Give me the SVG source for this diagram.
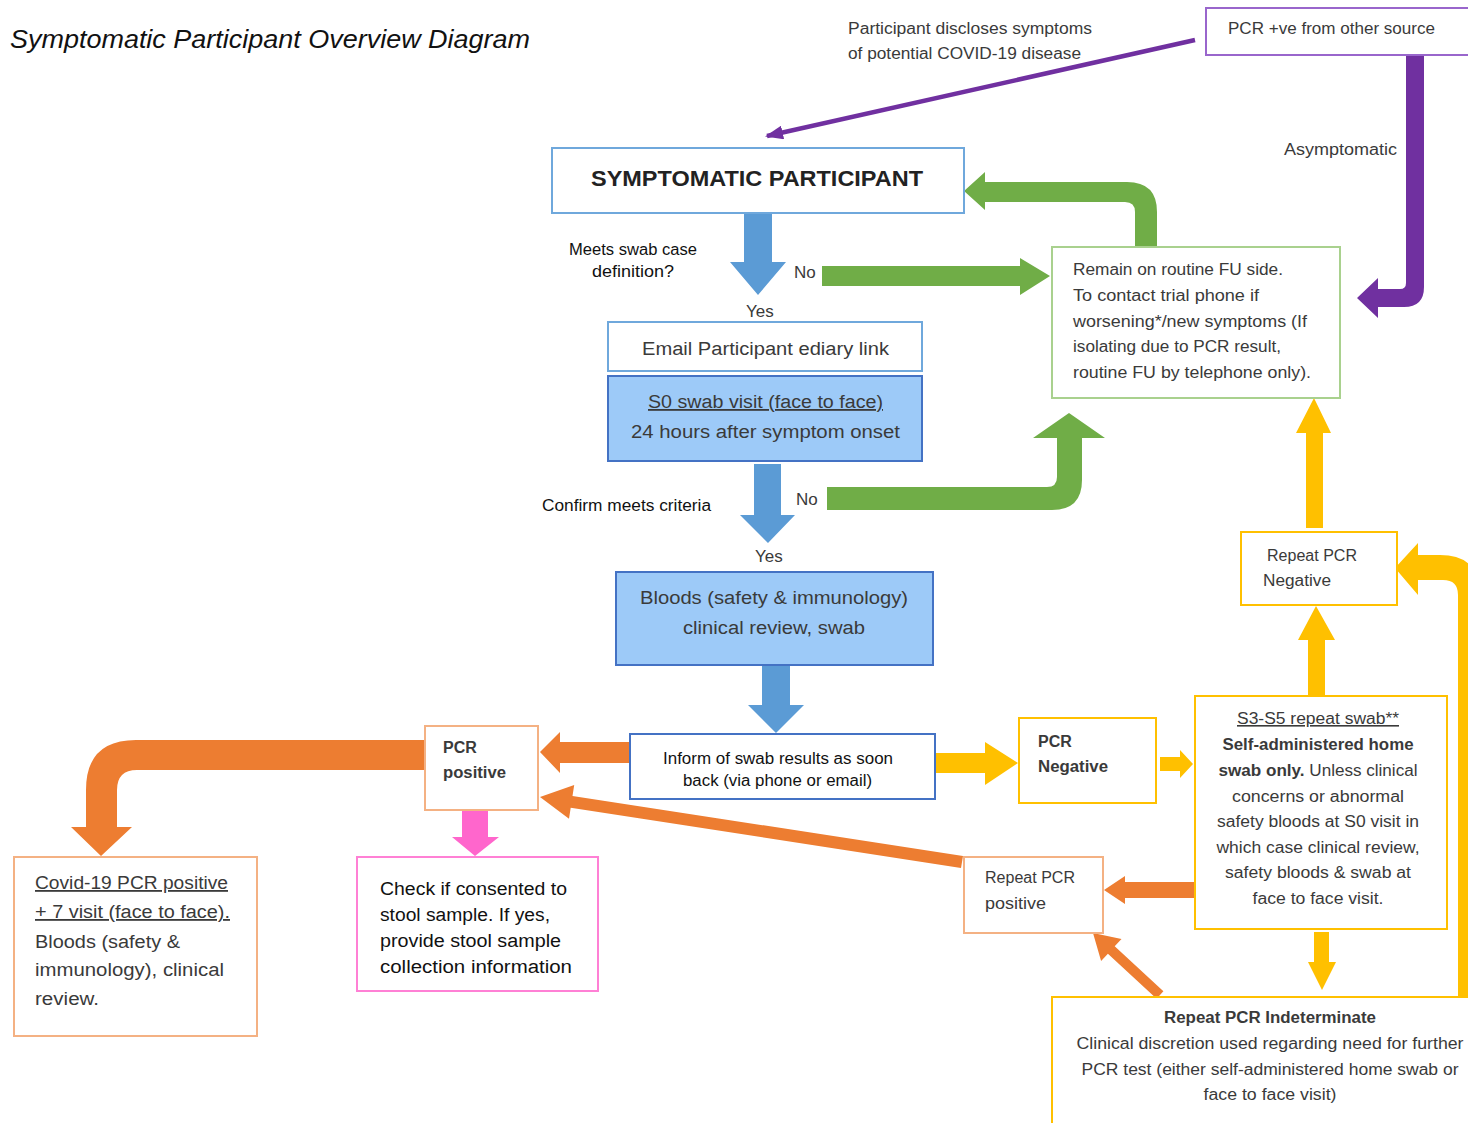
<svg xmlns="http://www.w3.org/2000/svg" width="1468" height="1123" viewBox="0 0 1468 1123">
<style>
text{font-family:"Liberation Sans",Arial,sans-serif;font-size:16px;fill:#3a3a3a}
.blk{fill:#111}
.b{font-weight:bold}
.big{font-size:18px}
.box{fill:#fff;stroke-width:2}
.blue{stroke:#6fa8dc}
.dblue{stroke:#4472c4}
.fillb{fill:#9dcaf8}
.green{stroke:#a9d18e}
.orange{stroke:#f4b183}
.yellow{stroke:#ffc000}
.pink{stroke:#ff80d5}
.purple{stroke:#9966cc}
.ab{fill:#5b9bd5}
.ag{fill:#70ad47}
.ao{fill:#ed7d31}
.ay{fill:#ffc000}
.ap{fill:#7030a0}
.apk{fill:#ff66cc}
.u{text-decoration:underline}
</style>
<defs>
<marker id="mp" markerWidth="18" markerHeight="14" refX="16" refY="7" orient="auto" markerUnits="userSpaceOnUse">
<path d="M0,0 L18,7 L0,14 Z" fill="#7030a0"/>
</marker>
</defs>
<rect width="1468" height="1123" fill="#fff"/>
<text x="10" y="48" style="font-size:25px;font-style:italic;fill:#111" textLength="520" lengthAdjust="spacingAndGlyphs">Symptomatic Participant Overview Diagram</text>

<g id="connectors">
<line x1="1195" y1="40" x2="767" y2="136" stroke="#7030a0" stroke-width="4.5" marker-end="url(#mp)"/>
<path class="ap" d="M1406,55 L1424,55 L1424,287 Q1424,307 1404,307 L1378,307 L1378,318 L1357,298 L1378,278 L1378,289 L1400,289 Q1406,289 1406,283 Z"/>
<path class="ab" d="M744,213 L772,213 L772,262 L786,262 L758,295 L730,262 L744,262 Z"/>
<path class="ab" d="M754,464 L781,464 L781,515 L795,515 L768,543 L740,515 L754,515 Z"/>
<path class="ab" d="M762,665 L790,665 L790,705 L804,705 L776,733 L748,705 L762,705 Z"/>
<path class="ag" d="M822,266 L1020,266 L1020,258 L1050,276 L1020,295 L1020,286 L822,286 Z"/>
<path class="ag" d="M1135,247 L1135,212 Q1135,202 1125,202 L985,202 L985,210 L964,191 L985,172 L985,182 L1127,182 Q1157,182 1157,212 L1157,247 Z"/>
<path class="ag" d="M827,487 L1047,487 Q1057,487 1057,477 L1057,438 L1033,438 L1069,413 L1105,438 L1082,438 L1082,480 Q1082,510 1052,510 L827,510 Z"/>
<path class="ao" d="M630,742 L560,742 L560,732 L540,752 L560,773 L560,763 L630,763 Z"/>
<path class="ao" d="M425,740 L136,740 Q86,740 86,790 L86,827 L71,827 L101,856 L132,827 L117,827 L117,790 Q117,770 137,770 L425,770 Z"/>
<path class="apk" d="M462,810 L488,810 L488,837 L499,837 L475,856 L452,837 L462,837 Z"/>
<path class="ao" d="M963,856 L572.5,796 L574.2,785 L540,797 L569,818.7 L570.7,807.8 L961,868 Z"/>
<path class="ao" d="M1195,882 L1125,882 L1125,876 L1104,890 L1125,904 L1125,898 L1195,898 Z"/>
<path class="ao" d="M1163.4,991.3 L1114.7,946.3 L1121.5,939 L1093,933 L1101.1,961 L1107.9,953.7 L1156.6,998.7 Z"/>
<path class="ay" d="M935,753 L985,753 L985,742 L1018,763 L985,785 L985,773 L935,773 Z"/>
<path class="ay" d="M1160,757 L1180,757 L1180,750 L1193,764 L1180,778 L1180,771 L1160,771 Z"/>
<path class="ay" d="M1308,696 L1308,640 L1298,640 L1316,606 L1335,640 L1325,640 L1325,696 Z"/>
<path class="ay" d="M1306,528 L1306,433 L1296,433 L1314,398 L1331,433 L1323,433 L1323,528 Z"/>
<path class="ay" d="M1314,932 L1329,932 L1329,962 L1336,962 L1322,990 L1308,962 L1314,962 Z"/>
<path class="ay" d="M1458,997 L1458,595 Q1458,580 1443,580 L1418,580 L1418,595 L1395,568 L1418,543 L1418,555 L1440,555 Q1480,555 1480,595 L1480,997 Z"/>
</g>

<g id="labels">
<text x="848" y="34" textLength="244" lengthAdjust="spacingAndGlyphs">Participant discloses symptoms</text>
<text x="848" y="59" textLength="233" lengthAdjust="spacingAndGlyphs">of potential COVID-19 disease</text>
<text x="1284" y="155" textLength="113" lengthAdjust="spacingAndGlyphs">Asymptomatic</text>
<text class="blk" x="569" y="255" textLength="128" lengthAdjust="spacingAndGlyphs">Meets swab case</text>
<text class="blk" x="592" y="277" textLength="82" lengthAdjust="spacingAndGlyphs">definition?</text>
<text x="794" y="278" style="font-size:17px">No</text>
<text x="746" y="317" style="font-size:17px">Yes</text>
<text class="blk" x="542" y="511" textLength="169" lengthAdjust="spacingAndGlyphs">Confirm meets criteria</text>
<text x="796" y="505" style="font-size:17px">No</text>
<text x="755" y="562" style="font-size:17px">Yes</text>
</g>

<g id="node-pcr-other">
<rect class="box purple" x="1206" y="8" width="270" height="47"/>
<text x="1228" y="34" textLength="207" lengthAdjust="spacingAndGlyphs">PCR +ve from other source</text>
</g>

<g id="node-symptomatic">
<rect class="box blue" x="552" y="148" width="412" height="65"/>
<text class="b" x="591" y="186" style="font-size:22px;fill:#222" textLength="332" lengthAdjust="spacingAndGlyphs">SYMPTOMATIC PARTICIPANT</text>
</g>

<g id="node-routine">
<rect class="box green" x="1052" y="247" width="288" height="151"/>
<text x="1073" y="275" textLength="210" lengthAdjust="spacingAndGlyphs">Remain on routine FU side.</text>
<text x="1073" y="301" textLength="186" lengthAdjust="spacingAndGlyphs">To contact trial phone if</text>
<text x="1073" y="327" textLength="234" lengthAdjust="spacingAndGlyphs">worsening*/new symptoms (If</text>
<text x="1073" y="352" textLength="208" lengthAdjust="spacingAndGlyphs">isolating due to PCR result,</text>
<text x="1073" y="378" textLength="238" lengthAdjust="spacingAndGlyphs">routine FU by telephone only).</text>
</g>

<g id="node-email">
<rect class="box blue" x="608" y="322" width="314" height="49"/>
<text class="big" x="642" y="355" textLength="247" lengthAdjust="spacingAndGlyphs">Email Participant ediary link</text>
</g>

<g id="node-s0">
<rect class="fillb dblue" stroke-width="2" x="608" y="376" width="314" height="85"/>
<text class="big u" x="648" y="408" textLength="235" lengthAdjust="spacingAndGlyphs">S0 swab visit (face to face)</text>
<text class="big" x="631" y="438" textLength="269" lengthAdjust="spacingAndGlyphs">24 hours after symptom onset</text>
</g>

<g id="node-bloods">
<rect class="fillb dblue" stroke-width="2" x="616" y="572" width="317" height="93"/>
<text class="big" x="640" y="604" textLength="268" lengthAdjust="spacingAndGlyphs">Bloods (safety &amp; immunology)</text>
<text class="big" x="683" y="634" textLength="182" lengthAdjust="spacingAndGlyphs">clinical review, swab</text>
</g>

<g id="node-inform">
<rect class="box dblue" x="630" y="734" width="305" height="65"/>
<text class="blk" x="663" y="764" textLength="230" lengthAdjust="spacingAndGlyphs">Inform of swab results as soon</text>
<text class="blk" x="683" y="786" textLength="189" lengthAdjust="spacingAndGlyphs">back (via phone or email)</text>
</g>

<g id="node-pcr-positive">
<rect class="box orange" x="425" y="726" width="113" height="84"/>
<text class="b" x="443" y="753">PCR</text>
<text class="b" x="443" y="778" textLength="63" lengthAdjust="spacingAndGlyphs">positive</text>
</g>

<g id="node-covid-positive">
<rect class="box orange" x="14" y="857" width="243" height="179"/>
<text class="big u" x="35" y="889" textLength="193" lengthAdjust="spacingAndGlyphs">Covid-19 PCR positive</text>
<text class="big u" x="35" y="918" textLength="195" lengthAdjust="spacingAndGlyphs">+ 7 visit (face to face).</text>
<text class="big" x="35" y="948" textLength="145" lengthAdjust="spacingAndGlyphs">Bloods (safety &amp;</text>
<text class="big" x="35" y="976" textLength="189" lengthAdjust="spacingAndGlyphs">immunology), clinical</text>
<text class="big" x="35" y="1005" textLength="64" lengthAdjust="spacingAndGlyphs">review.</text>
</g>

<g id="node-stool">
<rect class="box pink" x="357" y="857" width="241" height="134"/>
<text class="big blk" x="380" y="895" textLength="187" lengthAdjust="spacingAndGlyphs">Check if consented to</text>
<text class="big blk" x="380" y="921" textLength="170" lengthAdjust="spacingAndGlyphs">stool sample. If yes,</text>
<text class="big blk" x="380" y="947" textLength="181" lengthAdjust="spacingAndGlyphs">provide stool sample</text>
<text class="big blk" x="380" y="973" textLength="192" lengthAdjust="spacingAndGlyphs">collection information</text>
</g>

<g id="node-pcr-negative">
<rect class="box yellow" x="1019" y="718" width="137" height="85"/>
<text class="b" x="1038" y="747">PCR</text>
<text class="b" x="1038" y="772" textLength="70" lengthAdjust="spacingAndGlyphs">Negative</text>
</g>

<g id="node-s3s5">
<rect class="box yellow" x="1195" y="696" width="252" height="233"/>
<g text-anchor="middle">
<text class="u" x="1318" y="724" textLength="162" lengthAdjust="spacingAndGlyphs">S3-S5 repeat swab**</text>
<text class="b" x="1318" y="750" textLength="191" lengthAdjust="spacingAndGlyphs">Self-administered home</text>
<text x="1318" y="776" textLength="199" lengthAdjust="spacingAndGlyphs"><tspan class="b">swab only.</tspan> Unless clinical</text>
<text x="1318" y="802" textLength="172" lengthAdjust="spacingAndGlyphs">concerns or abnormal</text>
<text x="1318" y="827" textLength="202" lengthAdjust="spacingAndGlyphs">safety bloods at S0 visit in</text>
<text x="1318" y="853" textLength="203" lengthAdjust="spacingAndGlyphs">which case clinical review,</text>
<text x="1318" y="878" textLength="186" lengthAdjust="spacingAndGlyphs">safety bloods &amp; swab at</text>
<text x="1318" y="904" textLength="131" lengthAdjust="spacingAndGlyphs">face to face visit.</text>
</g>
</g>

<g id="node-repeat-negative">
<rect class="box yellow" x="1241" y="532" width="156" height="73"/>
<text x="1267" y="561" textLength="90" lengthAdjust="spacingAndGlyphs">Repeat PCR</text>
<text x="1263" y="586" textLength="68" lengthAdjust="spacingAndGlyphs">Negative</text>
</g>

<g id="node-repeat-positive">
<rect class="box orange" x="964" y="857" width="139" height="76"/>
<text x="985" y="883" textLength="90" lengthAdjust="spacingAndGlyphs">Repeat PCR</text>
<text x="985" y="909" textLength="61" lengthAdjust="spacingAndGlyphs">positive</text>
</g>

<g id="node-indeterminate">
<rect class="box yellow" x="1052" y="997" width="430" height="140"/>
<g text-anchor="middle">
<text class="b" x="1270" y="1023" textLength="212" lengthAdjust="spacingAndGlyphs">Repeat PCR Indeterminate</text>
<text x="1270" y="1049" textLength="387" lengthAdjust="spacingAndGlyphs">Clinical discretion used regarding need for further</text>
<text x="1270" y="1075" textLength="377" lengthAdjust="spacingAndGlyphs">PCR test (either self-administered home swab or</text>
<text x="1270" y="1100" textLength="133" lengthAdjust="spacingAndGlyphs">face to face visit)</text>
</g>
</g>
</svg>
